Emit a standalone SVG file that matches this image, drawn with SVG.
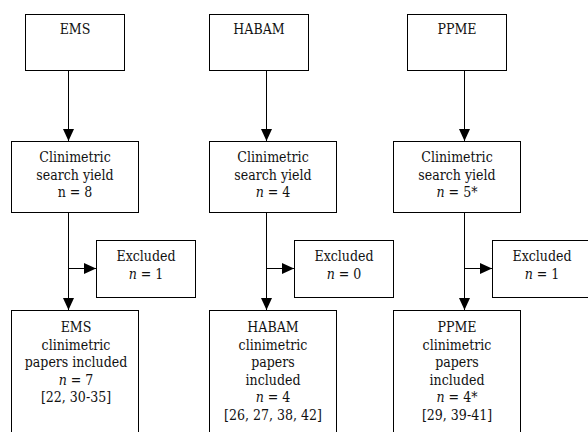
<svg xmlns="http://www.w3.org/2000/svg" width="588" height="432" viewBox="0 0 588 432">
<style>
.box{fill:#fff;stroke:#000;stroke-width:1}
.t{font-family:'DejaVu Serif Condensed','DejaVu Serif',serif;font-stretch:condensed;font-size:14px;fill:#111;text-anchor:middle}
.i{font-style:italic}
.c{stroke:#000;stroke-width:1;fill:none;marker-end:url(#ah)}
</style>
<defs>
<marker id="ah" viewBox="0 0 12 11" refX="12" refY="5.5" markerWidth="12" markerHeight="11" markerUnits="userSpaceOnUse" orient="auto">
<path d="M0,0 L12,5.5 L0,11 z" fill="#000"/>
</marker>
</defs>
<rect width="588" height="432" fill="#fff"/>
<g id="connectors">
<line class="c" x1="68.5" y1="70.5" x2="68.5" y2="141"/>
<line class="c" x1="68.5" y1="212.5" x2="68.5" y2="310"/>
<line class="c" x1="68.5" y1="268.5" x2="96" y2="268.5"/>
<line class="c" x1="266.5" y1="70.5" x2="266.5" y2="141"/>
<line class="c" x1="266.5" y1="212.5" x2="266.5" y2="310"/>
<line class="c" x1="266.5" y1="268.5" x2="294" y2="268.5"/>
<line class="c" x1="464.5" y1="70.5" x2="464.5" y2="141"/>
<line class="c" x1="464.5" y1="212.5" x2="464.5" y2="310"/>
<line class="c" x1="464.5" y1="268.5" x2="492" y2="268.5"/>
</g>
<g id="ems">
<rect class="box" x="25.5" y="14.5" width="99" height="56"/>
<text class="t" x="75" y="34">EMS</text>
</g>
<g id="habam">
<rect class="box" x="209.5" y="14.5" width="99" height="56"/>
<text class="t" x="259" y="34">HABAM</text>
</g>
<g id="ppme">
<rect class="box" x="407.5" y="14.5" width="99" height="56"/>
<text class="t" x="457" y="34">PPME</text>
</g>
<g id="ems-search">
<rect class="box" x="11.5" y="141.5" width="127" height="71"/>
<text class="t" x="75" y="162">Clinimetric</text>
<text class="t" x="75" y="179.5">search yield</text>
<text class="t" x="75" y="197">n = 8</text>
</g>
<g id="habam-search">
<rect class="box" x="209.5" y="141.5" width="127" height="71"/>
<text class="t" x="273" y="162">Clinimetric</text>
<text class="t" x="273" y="179.5">search yield</text>
<text class="t" x="273" y="197"><tspan class="i">n</tspan> = 4</text>
</g>
<g id="ppme-search">
<rect class="box" x="393.5" y="141.5" width="127" height="71"/>
<text class="t" x="457" y="162">Clinimetric</text>
<text class="t" x="457" y="179.5">search yield</text>
<text class="t" x="457" y="197"><tspan class="i">n</tspan> = 5*</text>
</g>
<g id="ems-excluded">
<rect class="box" x="96.5" y="240.5" width="99" height="57"/>
<text class="t" x="146" y="261">Excluded</text>
<text class="t" x="146" y="278.5"><tspan class="i">n</tspan> = 1</text>
</g>
<g id="habam-excluded">
<rect class="box" x="294.5" y="240.5" width="99" height="57"/>
<text class="t" x="344" y="261">Excluded</text>
<text class="t" x="344" y="278.5"><tspan class="i">n</tspan> = 0</text>
</g>
<g id="ppme-excluded">
<rect class="box" x="492.5" y="240.5" width="99" height="57"/>
<text class="t" x="542" y="261">Excluded</text>
<text class="t" x="542" y="278.5"><tspan class="i">n</tspan> = 1</text>
</g>
<g id="ems-included">
<rect class="box" x="11.5" y="310.5" width="127" height="130"/>
<text class="t" x="76" y="332">EMS</text>
<text class="t" x="76" y="349.6">clinimetric</text>
<text class="t" x="76" y="367.2">papers included</text>
<text class="t" x="76" y="384.8"><tspan class="i">n</tspan> = 7</text>
<text class="t" x="76" y="402.4">[22, 30-35]</text>
</g>
<g id="habam-included">
<rect class="box" x="209.5" y="310.5" width="127" height="130"/>
<text class="t" x="273" y="332">HABAM</text>
<text class="t" x="273" y="349.6">clinimetric</text>
<text class="t" x="273" y="367.2">papers</text>
<text class="t" x="273" y="384.8">included</text>
<text class="t" x="273" y="402.4"><tspan class="i">n</tspan> = 4</text>
<text class="t" x="273" y="420">[26, 27, 38, 42]</text>
</g>
<g id="ppme-included">
<rect class="box" x="393.5" y="310.5" width="127" height="130"/>
<text class="t" x="457" y="332">PPME</text>
<text class="t" x="457" y="349.6">clinimetric</text>
<text class="t" x="457" y="367.2">papers</text>
<text class="t" x="457" y="384.8">included</text>
<text class="t" x="457" y="402.4"><tspan class="i">n</tspan> = 4*</text>
<text class="t" x="457" y="420">[29, 39-41]</text>
</g>
</svg>
